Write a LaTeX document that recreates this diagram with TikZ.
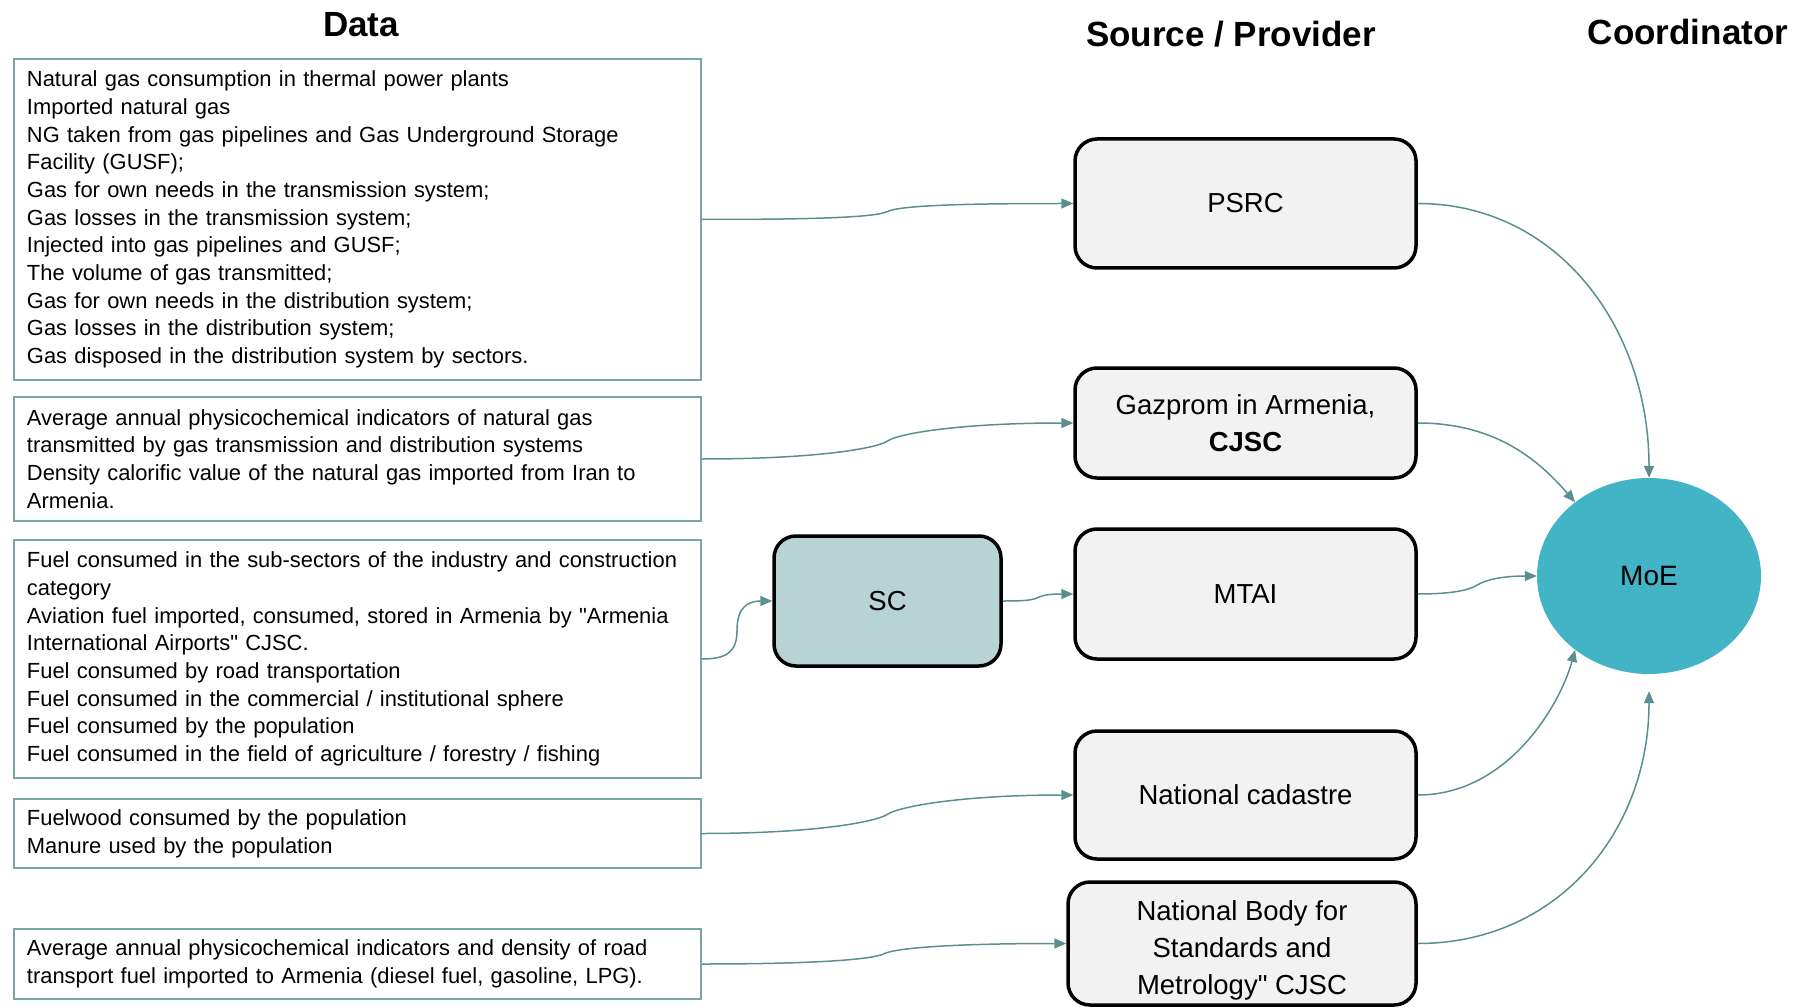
\documentclass[tikz,border=0pt]{standalone}
\usepackage{fontspec}
\setmainfont{Liberation Sans}
\newfontfamily\qf{Liberation Sans}
\usetikzlibrary{arrows.meta,calc,shapes.geometric}
\definecolor{databorder}{HTML}{7AA5A5}
\definecolor{connc}{HTML}{5B8E8E}
\definecolor{boxfill}{HTML}{F2F2F2}
\definecolor{scfill}{HTML}{B8D3D3}
\definecolor{moefill}{HTML}{43B3C6}
\newcommand{\dq}{{\qf"}}
\tikzset{
  databox/.style={draw=databorder, line width=1.6, rectangle, minimum width=687, text width=661, inner xsep=13, inner ysep=4, align=left, font=\fontsize{21.9}{27.7}\selectfont},
  srcbox/.style={draw=black, line width=3.5, fill=boxfill, rounded corners=22, minimum width=341, align=center, font=\fontsize{27.5}{37}\selectfont},
  title/.style={font=\fontsize{35}{42}\selectfont\bfseries},
  conn/.style={draw=connc, line width=1.5, -{Triangle[length=12,width=10]}},
}
\begin{document}
\begin{tikzpicture}[x=1pt,y=-1pt]
\useasboundingbox (0,0) rectangle (1793,1008);
% titles
\node[title] (tdata) at (361,25) {Data};
\node[title] (tsrc) at (1231,34) {Source / Provider};
\node[title] (tcoord) at (1688,32) {Coordinator};
% data boxes
\node[databox, minimum height=321] (d1) at (357.5,219.5) {Natural gas consumption in thermal power plants\\
Imported natural gas\\
NG taken from gas pipelines and Gas Underground Storage\\
Facility (GUSF);\\
Gas for own needs in the transmission system;\\
Gas losses in the transmission system;\\
Injected into gas pipelines and GUSF;\\
The volume of gas transmitted;\\
Gas for own needs in the distribution system;\\
Gas losses in the distribution system;\\
Gas disposed in the distribution system by sectors.};
\node[databox, minimum height=124] (d2) at (357.5,459) {Average annual physicochemical indicators of natural gas\\
transmitted by gas transmission and distribution systems\\
Density calorific value of the natural gas imported from Iran to\\
Armenia.};
\node[databox, minimum height=238] (d3) at (357.5,659) {Fuel consumed in the sub-sectors of the industry and construction\\
category\\
Aviation fuel imported, consumed, stored in Armenia by \dq Armenia\\
International Airports\dq\ CJSC.\\
Fuel consumed by road transportation\\
Fuel consumed in the commercial / institutional sphere\\
Fuel consumed by the population\\
Fuel consumed in the field of agriculture / forestry / fishing};
\node[databox, minimum height=69] (d4) at (357.5,833.5) {Fuelwood consumed by the population\\
Manure used by the population};
\node[databox, minimum height=70] (d5) at (357.5,964) {Average annual physicochemical indicators and density of road\\
transport fuel imported to Armenia (diesel fuel, gasoline, LPG).};
% source boxes
\node[srcbox, minimum height=129] (psrc) at (1245.5,203.5) {PSRC};
\node[srcbox, minimum height=110] (gaz) at (1245.5,423) {Gazprom in Armenia,\\\textbf{CJSC}};
\node[srcbox, minimum height=130] (mtai) at (1245.5,594) {MTAI};
\node[srcbox, minimum height=128] (cad) at (1245.5,795) {National cadastre};
\node[srcbox, minimum height=123, minimum width=348] (nbs) at (1242,943.5) {};
\node[align=center, font=\fontsize{27.5}{37}\selectfont] (nbstext) at ($(nbs.center)+(0,7)$) {National Body for\\Standards and\\Metrology\dq\ CJSC};
\node[srcbox, fill=scfill, minimum height=130, minimum width=227] (sc) at (887.5,601) {SC};
% coordinator
\node[ellipse, fill=moefill, minimum width=224, minimum height=196, inner sep=0, font=\fontsize{28}{34}\selectfont] (moe) at (1649,576) {MoE};
% midpoints
\coordinate (m1) at ($(d1.east)!0.5!(psrc.west)$);
\coordinate (m2) at ($(d2.east)!0.5!(gaz.west)$);
\coordinate (m3) at ($(d3.east)!0.5!(sc.west)$);
\coordinate (m4) at ($(d4.east)!0.5!(cad.west)$);
\coordinate (m5) at ($(d5.east)!0.5!(nbs.west)$);
\coordinate (m6) at ($(sc.east)!0.5!(mtai.west)$);
\coordinate (m7) at ($(mtai.east)!0.5!(moe.west)$);
\coordinate (moeb) at ($(moe.south)+(0,17)$);
% left connectors
\draw[conn] (d1.east) .. controls +(110,0) and +(-12,6) .. (m1) .. controls +(12,-6) and +(-110,0) .. (psrc.west);
\draw[conn] (d2.east) .. controls +(110,0) and +(-12,8) .. (m2) .. controls +(12,-8) and +(-110,0) .. (gaz.west);
\draw[conn] (d3.east) .. controls +(25,0) and +(0,22) .. (m3) .. controls +(0,-22) and +(-25,0) .. (sc.west);
\draw[conn] (d4.east) .. controls +(110,0) and +(-12,8) .. (m4) .. controls +(12,-8) and +(-110,0) .. (cad.west);
\draw[conn] (d5.east) .. controls +(110,0) and +(-12,6) .. (m5) .. controls +(12,-6) and +(-110,0) .. (nbs.west);
\draw[conn] (sc.east) .. controls +(20,0) and +(-6,3) .. (m6) .. controls +(6,-3) and +(-20,0) .. (mtai.west);
% right connectors
\draw[conn] (psrc.east) .. controls +(140,0) and +(0,-150) .. (moe.north);
\draw[conn] (gaz.east) .. controls +(80,0) and +(-35,-40) .. (moe.135);
\draw[conn] (mtai.east) .. controls +(35,0) and +(-8,5) .. (m7) .. controls +(8,-5) and +(-35,0) .. (moe.west);
\draw[conn] (cad.east) .. controls +(90,0) and +(-15,55) .. (moe.225);
\draw[conn] (nbs.east) .. controls +(140,0) and +(0,140) .. (moeb);
\end{tikzpicture}
\end{document}
